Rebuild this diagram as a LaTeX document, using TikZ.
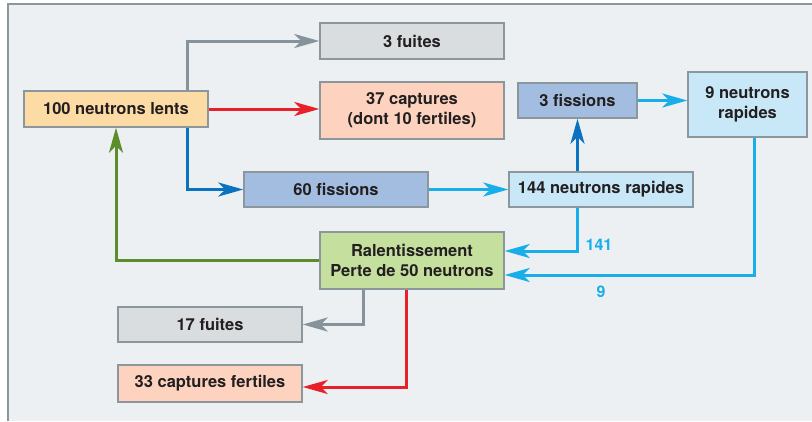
\documentclass[tikz,border=0pt]{standalone}
\usepackage{fontspec}
\setmainfont{TeX Gyre Heros}
\usetikzlibrary{arrows.meta}
\definecolor{bgc}{HTML}{EDF0F2}
\definecolor{framec}{HTML}{8C969D}
\definecolor{txt}{HTML}{231F20}
\definecolor{cgrey}{HTML}{D9DDE0}
\definecolor{corange}{HTML}{FDDBA5}
\definecolor{csalmon}{HTML}{FDD3C0}
\definecolor{cblue}{HTML}{A3BDE1}
\definecolor{clight}{HTML}{C8E8F8}
\definecolor{cgreen}{HTML}{C5DF9F}
\definecolor{agrey}{HTML}{87939B}
\definecolor{ared}{HTML}{E8202A}
\definecolor{adblue}{HTML}{0B72C0}
\definecolor{acyan}{HTML}{18AEE9}
\definecolor{agreen}{HTML}{5B8E2A}
\tikzset{
  box/.style={draw=framec, line width=1.4pt, text=txt, align=center, inner sep=0pt,
    font=\fontsize{16.5}{20}\selectfont\bfseries},
  conn/.style={line width=3pt, -{Stealth[length=25pt,width=14pt,inset=7pt]}},
  lbl/.style={text=acyan, font=\fontsize{16}{18}\selectfont\bfseries, inner sep=0pt}
}
\begin{document}
\begin{tikzpicture}[x=1pt,y=-1pt]
\useasboundingbox (0,0) rectangle (812,421);
\fill[bgc] (8,4) rectangle (812,421);
\draw[framec, line width=1.5pt] (8,421) -- (8,4) -- (812,4);

\node[box, fill=cgrey, minimum width=184pt, minimum height=36pt] (fuites3) at (412,41) {3 fuites};
\node[box, fill=csalmon, minimum width=184pt, minimum height=57pt] (capt37) at (412,110.5) {37 captures\\(dont 10 fertiles)};
\node[box, fill=corange, minimum width=184pt, minimum height=36pt] (lents) at (116,109) {100 neutrons lents};
\node[box, fill=cblue, minimum width=119pt, minimum height=35pt] (fis3) at (577.5,100.5) {3 fissions};
\node[box, fill=clight, minimum width=119pt, minimum height=65pt] (rap9) at (747.5,104.5) {9 neutrons\\rapides};
\node[box, fill=cblue, minimum width=184pt, minimum height=35pt] (fis60) at (336,189.5) {60 fissions};
\node[box, fill=clight, minimum width=184pt, minimum height=35pt] (rap144) at (601,189.5) {144 neutrons rapides};
\node[box, fill=cgreen, minimum width=184pt, minimum height=57pt] (ral) at (412,260.5) {Ralentissement\\Perte de 50 neutrons};
\node[box, fill=cgrey, minimum width=184pt, minimum height=35pt] (fuites17) at (210,324.5) {17 fuites};
\node[box, fill=csalmon, minimum width=184pt, minimum height=37pt] (capt33) at (210,383.5) {33 captures fertiles};

\draw[conn, agrey] ([xshift=71pt]lents.north) |- (fuites3.west);
\draw[conn, ared] (lents.east) -- (lents.east -| capt37.west);
\draw[conn, adblue] ([xshift=71pt]lents.south) |- (fis60.west);
\draw[conn, acyan] (fis60.east) -- (rap144.west);
\draw[conn, adblue] (fis3.south |- rap144.north) -- (fis3.south);
\draw[conn, acyan] (fis3.east) -- (fis3.east -| rap9.west);
\draw[conn, acyan] (fis3.south |- rap144.south) |- ([yshift=9.5pt]ral.east);
\draw[conn, acyan] ([xshift=6.5pt]rap9.south) |- ([yshift=-14.5pt]ral.east);
\draw[conn, agreen] (ral.west) -| (lents.south);
\draw[conn, agrey] ([xshift=-49pt]ral.south) |- (fuites17.east);
\draw[conn, ared] ([xshift=-6pt]ral.south) |- ([yshift=-3.5pt]capt33.east);

\node[lbl] (l141) at (599,245) {141};
\node[lbl] (l9) at (601,292) {9};
\end{tikzpicture}
\end{document}
